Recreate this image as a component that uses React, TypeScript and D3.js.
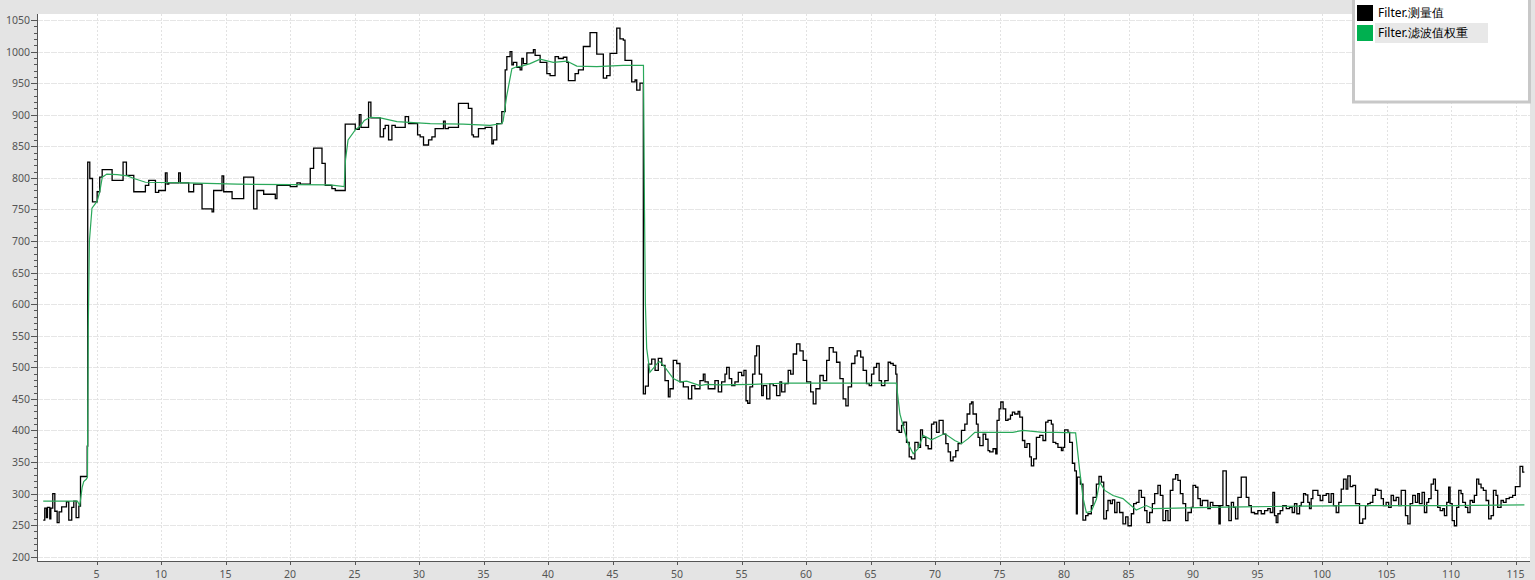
import React from 'react';
import * as d3 from 'd3';

const yTickValues = [200, 250, 300, 350, 400, 450, 500, 550, 600, 650, 700, 750, 800, 850, 900, 950, 1000, 1050];
const yMinorValues = [210,220,230,240,260,270,280,290,310,320,330,340,360,370,380,390,410,420,430,440,460,470,480,490,510,520,530,540,560,570,580,590,610,620,630,640,660,670,680,690,710,720,730,740,760,770,780,790,810,820,830,840,860,870,880,890,910,920,930,940,960,970,980,990,1010,1020,1030,1040];
const xTickValues = [5, 10, 15, 20, 25, 30, 35, 40, 45, 50, 55, 60, 65, 70, 75, 80, 85, 90, 95, 100, 105, 110, 115];

const seriesNames = ['Filter.测量值', 'Filter.滤波值权重'];
const seriesColors = ['#000000', '#00b050'];

// measured value: change points [x, value] (step after)
const measured: [number, number][] = [
  [0.87,258],[0.99,277],[1.12,262],[1.2,278],[1.38,260],[1.46,277],[1.61,300],[1.77,272],[1.95,254],[2.1,271],[2.3,279],[2.67,287],[2.85,258],[3.08,278],[3.24,288],[3.42,262],[3.63,280],[3.76,327],[4.28,375],[4.32,825],[4.48,799],[4.69,762],[5.05,778],[5.25,801],[5.44,813],[6.21,796],[7.06,825],[7.32,804],[7.89,778],[8.79,788],[9.05,796],[9.57,777],[9.82,780],[10.34,808],[10.47,790],[10.6,792],[11.37,808],[11.5,792],[12.15,778],[12.53,790],[13.18,751],[13.96,746],[14.08,780],[14.73,803],[14.86,778],[15.51,767],[15.76,767],[16.41,801],[17.18,751],[17.44,780],[17.96,774],[18.86,767],[18.99,788],[20.02,786],[20.54,792],[20.8,790],[21.57,815],[21.83,847],[22.48,823],[22.73,788],[23.25,783],[23.51,780],
  [24.28,885],[25.06,877],[25.37,900],[25.5,880],[26.09,920],[26.27,895],[26.99,865],[27.25,878],[27.38,883],[27.64,860],[27.9,883],[28.16,880],[28.93,897],[29.19,886],[29.89,868],[30.09,865],[30.35,852],[30.74,860],[31.0,865],[31.25,878],[31.9,890],[32.03,878],[32.28,880],[33.06,918],[33.83,910],[34.1,868],[34.22,865],[34.61,878],[35.13,880],[35.65,854],[35.77,860],[36.03,886],[36.42,905],[36.68,971],[36.81,992],[37.06,1000],[37.2,979],[37.32,983],[37.58,975],[37.84,971],[37.97,989],[38.09,981],[38.36,998],[38.87,1003],[39.0,994],[39.39,983],[39.91,965],[40.16,962],[40.55,992],[40.81,989],[41.19,991],[41.46,983],[41.58,954],[42.1,965],[42.36,971],[42.74,1008],[43.26,1030],[43.78,996],[44.29,958],[44.55,962],[44.81,997],[45.33,1037],[45.58,1020],[45.84,1018],[45.97,986],[46.49,952],[46.75,955],[46.88,939],[47.13,950],
  [47.39,458],[47.55,470],[47.78,505],[48.04,513],[48.3,495],[48.55,514],[48.82,503],[49.07,479],[49.33,453],[49.46,466],[49.71,511],[49.98,506],[50.23,477],[50.49,469],[50.88,450],[51.14,471],[51.39,466],[51.78,479],[52.04,489],[52.17,477],[52.42,466],[52.94,479],[53.2,461],[53.46,477],[53.72,489],[53.85,500],[54.05,482],[54.24,471],[54.49,477],[54.75,492],[55.01,487],[55.19,495],[55.35,447],[55.48,443],[55.65,469],[55.86,489],[56.04,518],[56.17,534],[56.38,489],[56.56,455],[56.69,471],[56.95,450],[57.2,474],[57.46,471],[57.72,455],[57.98,477],[58.11,461],[58.37,474],[58.62,495],[58.81,489],[59.01,521],[59.27,537],[59.53,526],[59.78,511],[60.05,477],[60.36,461],[60.56,442],[60.77,466],[61.08,487],[61.34,479],[61.6,511],[61.8,531],[62.11,524],[62.37,508],[62.63,482],[62.88,450],[63.09,439],[63.27,469],[63.53,506],[63.79,518],[63.97,526],[64.24,516],[64.43,495],[64.69,474],[64.9,471],[65.08,489],[65.26,500],[65.47,506],[65.67,479],[65.85,471],[66.11,479],[66.37,508],[66.55,506],[66.76,503],[66.96,489],
  [67.05,400],[67.22,397],[67.41,408],[67.58,413],[67.79,381],[68.0,358],[68.18,355],[68.44,381],[68.69,373],[68.88,401],[69.03,389],[69.29,376],[69.47,371],[69.73,410],[69.91,413],[70.12,397],[70.32,416],[70.63,394],[70.84,379],[71.02,366],[71.2,352],[71.4,358],[71.61,368],[71.79,379],[72.05,400],[72.31,410],[72.49,426],[72.7,442],[72.83,445],[72.95,426],[73.21,410],[73.34,389],[73.47,376],[73.73,394],[73.93,386],[74.11,368],[74.24,366],[74.5,371],[74.71,363],[74.81,416],[74.97,434],[75.1,445],[75.28,434],[75.48,416],[75.66,418],[75.85,424],[76.0,429],[76.18,426],[76.44,430],[76.57,421],[76.78,384],[76.96,373],[77.13,379],[77.34,358],[77.47,344],[77.65,355],[77.86,389],[78.12,392],[78.37,384],[78.58,413],[78.76,416],[79.02,410],[79.15,381],[79.36,379],[79.53,373],[79.8,368],[79.92,373],[80.05,401],[80.31,397],[80.44,381],[80.65,348],[80.83,336],[80.96,268],[81.03,326],[81.27,315],
  [81.47,258],[81.68,265],[81.86,268],[82.12,281],[82.25,294],[82.51,315],[82.71,327],[82.9,318],[83.08,260],[83.29,273],[83.41,289],[83.6,284],[83.75,290],[83.93,270],[84.11,286],[84.31,270],[84.57,252],[84.78,263],[84.96,249],[85.22,268],[85.4,284],[85.61,286],[85.81,305],[86.0,294],[86.25,273],[86.43,254],[86.64,270],[86.85,284],[87.03,300],[87.28,313],[87.47,297],[87.67,257],[87.88,273],[88.06,257],[88.24,305],[88.44,323],[88.65,330],[88.83,321],[89.02,300],[89.22,284],[89.43,257],[89.61,270],[89.87,278],[90.0,313],[90.2,310],[90.38,292],[90.57,281],[90.72,289],[91.15,276],[91.34,286],[91.54,281],[92.01,252],[92.11,281],[92.32,336],[92.58,281],[92.78,257],[92.97,286],[93.14,278],[93.3,260],[93.48,294],[93.74,326],[94.13,294],[94.33,281],[94.52,270],[94.77,268],[95.03,273],[95.29,268],[95.55,273],[95.8,276],[95.99,270],[96.19,302],[96.32,265],[96.45,254],[96.58,268],[96.76,273],[96.96,281],[97.23,276],[97.48,278],[97.69,270],[97.87,284],[98.05,268],[98.26,281],
  [98.39,286],[98.57,300],[98.72,298],[98.9,286],[99.03,276],[99.16,292],[99.29,305],[99.68,297],[99.86,289],[100.06,297],[100.33,300],[100.53,286],[100.71,300],[100.89,281],[101.1,270],[101.3,286],[101.49,307],[101.67,323],[101.87,307],[102.0,328],[102.19,311],[102.39,313],[102.6,284],[102.91,253],[103.16,260],[103.37,281],[103.55,284],[103.74,286],[103.94,297],[104.14,307],[104.32,305],[104.59,292],[104.76,281],[104.97,286],[105.17,278],[105.36,297],[105.54,289],[105.75,294],[105.95,281],[106.14,305],[106.47,265],[106.65,252],[106.83,284],[107.03,297],[107.24,286],[107.42,300],[107.55,284],[107.76,302],[107.94,270],[108.12,286],[108.27,292],[108.46,315],[108.64,323],[108.79,305],[108.97,278],[109.16,273],[109.36,276],[109.49,265],[109.67,286],[109.82,310],[109.93,284],[110.09,257],[110.26,249],[110.44,278],[110.6,305],[110.78,300],[110.91,286],[111.12,278],[111.3,270],[111.48,289],[111.68,286],[111.81,297],[111.99,323],[112.15,315],[112.33,309],[112.51,305],[112.72,289],[112.92,260],[113.11,265],[113.29,305],[113.49,297],[113.62,278],[113.88,289],[114.06,286],[114.27,292],[114.52,294],[114.78,297],[114.99,311],[115.35,343],[115.56,334],[115.69,334]
];

// filtered value (weighted filter output)
const filtered: [number, number][] = [
  [0.87,288],[3.52,288],[3.70,281],[3.89,310],[4.01,319],[4.22,323],[4.3,326],[4.36,560],[4.45,700],[4.65,752],[5.05,763],[5.25,778],[5.45,801],[5.8,806],[6.6,805],[7.4,803],[7.9,799],[8.8,793],[12.02,792],[15.9,790],[23.1,789],[24.2,786],
  [24.3,828],[24.5,860],[25.06,876],[25.45,882],[25.76,891],[26.22,896],[27.0,895],[28.29,889],[30.87,886],[33.42,885],[35.5,883],[36.42,886],[36.52,890],[36.8,930],[37.2,973],[37.58,976],[37.97,977],[38.61,981],[39.39,988],[40.4,983],[41.46,985],[42.23,977],[43.78,976],[45.82,978],[47.4,978],
  [47.48,750],[47.55,600],[47.65,530],[47.9,492],[48.55,508],[48.68,509],[49.07,500],[49.71,482],[50.23,477],[50.75,478],[51.78,471],[52.3,473],[53.33,472],[55.91,473],[58.5,475],[67.0,475],
  [67.28,426],[67.48,411],[67.92,379],[68.31,363],[68.69,371],[69.08,392],[69.73,385],[70.76,395],[71.53,384],[72.05,379],[72.57,387],[73.09,397],[74.25,397],[76.03,397],[76.83,400],[78.35,397],[79.41,397],[80.9,396],
  [81.22,336],[81.47,294],[81.73,270],[82.12,272],[82.51,291],[82.77,318],[83.16,305],[83.8,297],[84.57,292],[85.08,283],[85.6,274],[86.38,281],[86.9,276],[88.7,277],[91.3,278],[93.9,279],[98.26,280],[103.0,281],[110.0,281],[115.69,282]
];

const W = 1535;
const H = 580;
const plotLeft = 37;
const plotRight = 1530;
const plotTop = 14;
const plotBottom = 561;

export default function App() {
  const x = d3.scaleLinear().domain([5, 115]).range([96.5, 1515.5]);
  const y = d3.scaleLinear().domain([200, 1050]).range([556.7, 20]);

  const stepLine = d3.line<[number, number]>()
    .x(d => x(d[0]))
    .y(d => y(d[1]))
    .curve(d3.curveStepAfter);
  const smoothLine = d3.line<[number, number]>()
    .x(d => x(d[0]))
    .y(d => y(d[1]));

  const font = "'Noto Sans', 'Open Sans', sans-serif";

  return (
    <svg width={W} height={H} style={{ position: 'absolute', left: 0, top: 0, display: 'block' }}
      xmlns="http://www.w3.org/2000/svg">
      <rect x={0} y={0} width={W} height={H} fill="#e4e4e4" />
      <rect x={plotLeft} y={plotTop} width={plotRight - plotLeft} height={plotBottom - plotTop} fill="#ffffff" />
      <defs>
        <clipPath id="plotClip">
          <rect x={plotLeft} y={plotTop} width={plotRight - plotLeft} height={plotBottom - plotTop} />
        </clipPath>
      </defs>
      {/* grid */}
      <g strokeWidth={1}>
        {yTickValues.map(v => (
          <line key={'gy' + v} x1={plotLeft} x2={plotRight} y1={Math.round(y(v)) + 0.5} y2={Math.round(y(v)) + 0.5}
            stroke="#e6e6e6" strokeDasharray="6,1" />
        ))}
        {xTickValues.map(v => (
          <line key={'gx' + v} x1={Math.round(x(v)) + 0.5} x2={Math.round(x(v)) + 0.5} y1={plotTop} y2={plotBottom}
            stroke="#e2e2e2" strokeDasharray="2,2" />
        ))}
      </g>
      {/* series */}
      <g clipPath="url(#plotClip)" fill="none">
        <path d={stepLine(measured) || ''} stroke={seriesColors[0]} strokeWidth={1.3} />
        <path d={smoothLine(filtered) || ''} stroke="#2aa85a" strokeWidth={1.2} />
      </g>
      {/* y axis */}
      <g fontFamily={font} fontSize={10.5} fill="#555">
        <line x1={plotLeft + 0.5} x2={plotLeft + 0.5} y1={plotTop} y2={plotBottom} stroke="#555" strokeWidth={1} />
        {yMinorValues.map(v => (
          <line key={'my' + v} x1={plotLeft - 3} x2={plotLeft} y1={Math.round(y(v)) + 0.5} y2={Math.round(y(v)) + 0.5} stroke="#555" />
        ))}
        {yTickValues.map(v => (
          <g key={'ty' + v}>
            <line x1={plotLeft - 6} x2={plotLeft} y1={Math.round(y(v)) + 0.5} y2={Math.round(y(v)) + 0.5} stroke="#555" />
            <text x={plotLeft - 7} y={y(v)} textAnchor="end" dominantBaseline="central">{v}</text>
          </g>
        ))}
      </g>
      {/* x axis */}
      <g fontFamily={font} fontSize={10.5} fill="#555">
        <line x1={plotLeft} x2={plotRight} y1={plotBottom + 0.5} y2={plotBottom + 0.5} stroke="#555" strokeWidth={1} />
        {xTickValues.map(v => (
          <g key={'tx' + v}>
            <line x1={Math.round(x(v)) + 0.5} x2={Math.round(x(v)) + 0.5} y1={plotBottom} y2={plotBottom + 4} stroke="#555" />
            <text x={x(v)} y={573.5} textAnchor="middle" dominantBaseline="central">{v}</text>
          </g>
        ))}
      </g>
      {/* legend */}
      <g fontFamily={font} fontSize={12}>
        <rect x={1353.5} y={-2} width={176} height={104} fill="#ffffff" stroke="#c8c8c8" strokeWidth={3} />
        <rect x={1375} y={23} width={113} height={20} fill="#e8e8e8" />
        {seriesNames.map((name, i) => (
          <g key={name}>
            <rect x={1357} y={5 + i * 20} width={16} height={16} fill={seriesColors[i]} />
            <text x={1378} y={12.5 + i * 20} dominantBaseline="central" fill="#000">{name}</text>
          </g>
        ))}
      </g>
    </svg>
  );
}
